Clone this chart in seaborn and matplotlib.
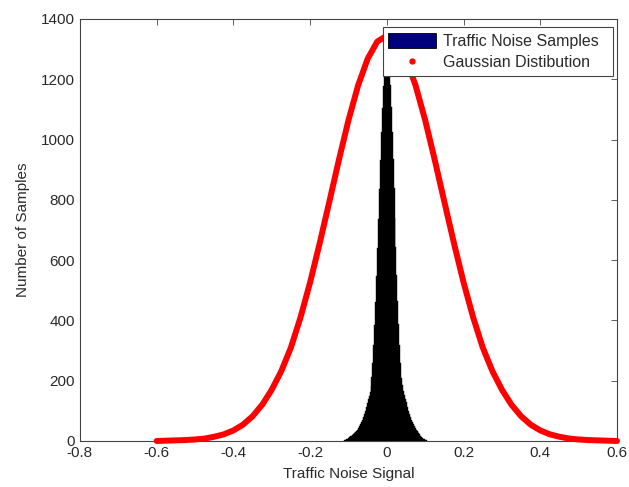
import numpy as np
import pandas as pd
import matplotlib
matplotlib.use("Agg")
import matplotlib.pyplot as plt
import seaborn as sns
from matplotlib.patches import Patch
from matplotlib.lines import Line2D

# ---- data ----
# Histogram of traffic noise samples: bin centres (width 0.0025) and counts
hist_centers = [-0.11125, -0.10875, -0.10625, -0.10375, -0.10125, -0.09875, -0.09625, -0.09375,
                -0.09125, -0.08875, -0.08625, -0.08375, -0.08125, -0.07875, -0.07625, -0.07375,
                -0.07125, -0.06875, -0.06625, -0.06375, -0.06125, -0.05875, -0.05625, -0.05375,
                -0.05125, -0.04875, -0.04625, -0.04375, -0.04125, -0.03875, -0.03625, -0.03375,
                -0.03125, -0.02875, -0.02625, -0.02375, -0.02125, -0.01875, -0.01625, -0.01375,
                -0.01125, -0.00875, -0.00625, -0.00375, -0.00125,
                0.00125, 0.00375, 0.00625, 0.00875, 0.01125, 0.01375, 0.01625, 0.01875,
                0.02125, 0.02375, 0.02625, 0.02875, 0.03125, 0.03375, 0.03625, 0.03875,
                0.04125, 0.04375, 0.04625, 0.04875, 0.05125, 0.05375, 0.05625, 0.05875,
                0.06125, 0.06375, 0.06625, 0.06875, 0.07125, 0.07375, 0.07625, 0.07875,
                0.08125, 0.08375, 0.08625, 0.08875, 0.09125, 0.09375, 0.09625, 0.09875,
                0.10125, 0.10375]
hist_counts = [2, 3, 5, 6, 8, 10, 12, 15,
               18, 21, 24, 27, 30, 34, 38, 43,
               49, 55, 62, 70, 79, 89, 101, 113,
               126, 139, 150, 163, 183, 212, 258, 318,
               386, 462, 548, 640, 738, 836, 933, 1024,
               1106, 1178, 1236, 1276, 1298,
               1300, 1278, 1238, 1180, 1108, 1025, 935, 838,
               740, 642, 550, 465, 388, 320, 260, 210,
               185, 165, 152, 140, 128, 113, 101, 89,
               79, 70, 62, 55, 49, 43, 38, 34,
               30, 26, 22, 18, 14, 10, 7, 5,
               3, 2]

# Fitted Gaussian distribution curve
gauss_x = [-0.600, -0.575, -0.550, -0.525, -0.500, -0.475, -0.450, -0.425, -0.400,
           -0.375, -0.350, -0.325, -0.300, -0.275, -0.250, -0.225, -0.200, -0.175,
           -0.150, -0.125, -0.100, -0.075, -0.050, -0.025, 0.000, 0.025, 0.050,
           0.075, 0.100, 0.125, 0.150, 0.175, 0.200, 0.225, 0.250, 0.275, 0.300,
           0.325, 0.350, 0.375, 0.400, 0.425, 0.450, 0.475, 0.500, 0.525, 0.550,
           0.575, 0.600]
gauss_y = [0, 1, 2, 3, 5, 8, 14, 22, 35,
           54, 82, 120, 170, 232, 310, 410, 526, 656,
           793, 932, 1064, 1179, 1268, 1325, 1345, 1325, 1268,
           1179, 1064, 932, 793, 656, 526, 410, 310, 232, 170,
           120, 82, 54, 35, 22, 14, 8, 5, 3, 2,
           1, 0]

x_ticks = [-0.8, -0.6, -0.4, -0.2, 0, 0.2, 0.4, 0.6]
x_tick_labels = ["-0.8", "-0.6", "-0.4", "-0.2", "0", "0.2", "0.4", "0.6"]
y_ticks = [0, 200, 400, 600, 800, 1000, 1200, 1400]
legend_labels = ["Traffic Noise Samples", "Gaussian Distibution"]

# ---- plotting ----
sns.set_style("white")
plt.rcParams["font.family"] = ["Liberation Sans", "DejaVu Sans"]

fig = plt.figure(figsize=(6.29, 4.87), dpi=100)
ax = fig.add_axes([0.127, 0.0945, 0.854, 0.8665])

hist_df = pd.DataFrame({"x": hist_centers, "n": hist_counts})
bw = 0.0025
lo = hist_centers[0] - bw / 2
hi = hist_centers[-1] + bw / 2
sns.histplot(data=hist_df, x="x", weights="n", binwidth=bw, binrange=(lo, hi),
             color="black", edgecolor="black", linewidth=0.3, alpha=1, ax=ax)

gauss_df = pd.DataFrame({"x": gauss_x, "y": gauss_y})
sns.lineplot(data=gauss_df, x="x", y="y", color="#ff0000", linewidth=4.3,
             ax=ax, clip_on=False, zorder=3, solid_joinstyle="round",
             solid_capstyle="round")

ax.set_xlim(-0.8, 0.6)
ax.set_ylim(0, 1400)
ax.set_xticks(x_ticks)
ax.set_xticklabels(x_tick_labels)
ax.set_yticks(y_ticks)
ax.set_xlabel("Traffic Noise Signal", fontsize=11, color="#2a2a2a", labelpad=5)
ax.set_ylabel("Number of Samples", fontsize=11, color="#2a2a2a", labelpad=8)
ax.tick_params(direction="in", length=4, width=0.6, top=True, right=True,
               labelsize=11, labelcolor="#2a2a2a", color="#444444")
for s in ax.spines.values():
    s.set_color("#444444")
    s.set_linewidth(0.8)

handles = [Patch(facecolor="#00007f", edgecolor="black", linewidth=0.6),
           Line2D([], [], color="#ff0000", marker=".", linestyle="none", markersize=7)]
leg = ax.legend(handles, legend_labels, loc="upper left",
                bbox_to_anchor=(0.564, 0.981, 0.4286, 0.0), mode="expand",
                fontsize=11.5, fancybox=False, framealpha=1, edgecolor="#444444",
                borderaxespad=0.0, handlelength=3.0, handleheight=1.1,
                labelspacing=0.35, borderpad=0.35, handletextpad=0.4)
leg.get_frame().set_linewidth(0.8)
leg.set_zorder(5)
for t in leg.get_texts():
    t.set_color("#2a2a2a")

fig.savefig("out.png", dpi=100)
